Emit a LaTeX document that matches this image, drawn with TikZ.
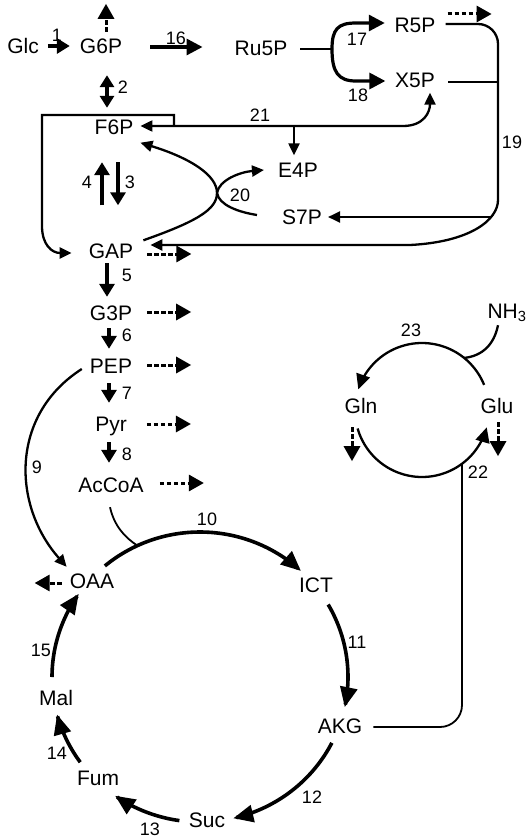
\documentclass[tikz,border=0pt]{standalone}
\usepackage{fontspec}
\setmainfont{Liberation Sans}
\usetikzlibrary{arrows.meta,calc}
\begin{document}
\begin{tikzpicture}[x=1pt,y=-1pt,
  sp/.style={inner sep=0pt, text height=15pt, text depth=0pt, font=\fontsize{21}{21}\selectfont},
  lab/.style={inner sep=0pt, text height=12.9pt, text depth=0pt, font=\fontsize{18}{18}\selectfont},
  rx/.style={line width=3.2pt, -{Triangle[length=13pt,width=15pt]}},
  bigrx/.style={line width=3.2pt, -{Triangle[length=16pt,width=16pt]}},
  dsh/.style={line width=3pt, dash pattern=on 4.5pt off 2.5pt, -{Triangle[length=15pt,width=16pt]}},
  ln/.style={line width=2.3pt},
  sm/.style={-{Triangle[length=12pt,width=11pt]}},
  tca/.style={line width=3.6pt, -{Triangle[length=20pt,width=17pt]}},
  thinln/.style={line width=1.8pt},
]
\useasboundingbox (0,0) rectangle (528,840);

% species
\node[sp] (Glc) at (23,46) {Glc};
\node[sp] (G6P) at (101,46) {G6P};
\node[sp] (Ru5P) at (261,48) {Ru5P};
\node[sp] (R5P) at (415,25) {R5P};
\node[sp] (X5P) at (415,80) {X5P};
\node[sp] (F6P) at (114,127) {F6P};
\node[sp] (E4P) at (298,170) {E4P};
\node[sp] (S7P) at (302,217) {S7P};
\node[sp] (GAP) at (111,251) {GAP};
\node[sp] (G3P) at (111,313) {G3P};
\node[sp] (PEP) at (111,366) {PEP};
\node[sp] (Pyr) at (111,424) {Pyr};
\node[sp] (AcCoA) at (111,485) {AcCoA};
\node[sp] (OAA) at (92,581) {OAA};
\node[sp] (ICT) at (316,585) {ICT};
\node[sp] (AKG) at (340,726) {AKG};
\node[sp] (Suc) at (207,820) {Suc};
\node[sp] (Fum) at (98,778) {Fum};
\node[sp] (Mal) at (56,698) {Mal};
\node[sp] (Gln) at (361,406) {Gln};
\node[sp] (Glu) at (497,406) {Glu};
\node[sp] (NH3) at (507,311) {NH\textsubscript{3}};

% labels
\node[lab] (l1) at (57,35) {1};
\node[lab] (l16) at (176,38) {16};
\node[lab] (l17) at (357,39) {17};
\node[lab] (l18) at (358,95) {18};
\node[lab] (l2) at (123,87) {2};
\node[lab] (l21) at (260,115) {21};
\node[lab] (l19) at (512,142) {19};
\node[lab] (l4) at (87,182) {4};
\node[lab] (l3) at (130,182) {3};
\node[lab] (l20) at (240,195) {20};
\node[lab] (l5) at (127,275) {5};
\node[lab] (l6) at (127,335) {6};
\node[lab] (l7) at (127,393) {7};
\node[lab] (l8) at (127,454) {8};
\node[lab] (l9) at (37,467) {9};
\node[lab] (l23) at (411,330) {23};
\node[lab] (l22) at (478,472) {22};
\node[lab] (l10) at (207,519) {10};
\node[lab] (l11) at (357,642) {11};
\node[lab] (l15) at (41,650) {15};
\node[lab] (l14) at (57,753) {14};
\node[lab] (l12) at (312,797) {12};
\node[lab] (l13) at (150,829) {13};

% helper coordinates
\coordinate (fork) at (332,49);
\coordinate (c19a) at (498,24);
\coordinate (c19b) at (498,200);
\coordinate (j19) at (490,217);
\coordinate (c21) at (403,126);
\coordinate (b21) at (174,126);
\coordinate (e21) at (294,126);
\coordinate (v20) at (217,193);
\coordinate (C) at (200,677);
\coordinate (G) at (422,410);

% glycolysis / top
\draw[rx] ($(Glc.east)+(9,0)$) -- ($(G6P.west)+(-10,0)$);
\draw[dsh] ($(G6P.north)+(5,-6.5)$) -- ($(G6P.north)+(5,-34.5)$);
\draw[line width=3.2pt, {Triangle[length=12pt,width=14pt]}-{Triangle[length=12pt,width=14pt]}]
  ($(G6P.south)+(6,21.5)$) -- ($(F6P.north)+(-7,-11.5)$);
\draw[bigrx] ($(G6P.east)+(28,1)$) -- ($(Ru5P.west)+(-32,-1)$);
\draw[line width=2.8pt] ($(Ru5P.east)+(13,1)$) -- (fork);
\draw[bigrx] (fork) .. controls (332,29) and (338,23) .. (356,23) -- ($(R5P.west)+(-9.6,-2)$);
\draw[bigrx] (fork) .. controls (332,72) and (338,81) .. (356,81) -- ($(X5P.west)+(-9.6,1)$);
\draw[dsh] ($(R5P.east)+(12,-11)$) -- ($(R5P.east)+(56,-11)$);

% 19
\draw[ln, rounded corners=20pt] ($(R5P.east)+(10,-1)$) -- (c19a) -- (c19b);
\draw[ln] ($(X5P.east)+(13,2)$) -- (498,82);
\draw[ln, sm] (c19b) .. controls (498,220) and (470,242) .. (410,245) -- ($(GAP.east)+(17,-6)$);
\draw[ln, sm] (j19) -- ($(S7P.east)+(6,0)$);

% 21
\draw[ln, {Triangle[length=12pt,width=11pt]}-{Triangle[length=12pt,width=11pt]}]
  ($(F6P.east)+(7,-1)$) -- (c21) .. controls (424,126) and (430,112) .. ($(X5P.south)+(15,5)$);
\draw[ln, sm] (e21) -- ($(E4P.north)+(-4,-7)$);
\draw[ln, sm] (b21) -- (174,115) -- (42,115) -- (42,226) .. controls (42,245) and (52,253) .. ($(GAP.west)+(-17,2)$);

% 3 / 4
\draw[rx] ($(GAP.north)+(-9,-38)$) -- ($(F6P.south)+(-12,27.5)$);
\draw[rx] ($(F6P.south)+(4,27.5)$) -- ($(GAP.north)+(7,-38)$);

% 20
\draw[ln, sm] ($(GAP.north east)+(10,-3)$) .. controls (195,222) and (217,210) .. (v20)
  .. controls (217,175) and (190,158) .. ($(F6P.south east)+(7,8)$);
\draw[ln, sm] ($(S7P.west)+(-25,-2)$) .. controls (238,212) and (219,205) .. (v20)
  .. controls (219,180) and (240,172) .. ($(E4P.west)+(-14,0)$);

% lower glycolysis
\draw[rx] ($(GAP.south)+(-4,4.5)$) -- ($(G3P.north)+(-4,-8.5)$);
\draw[rx] ($(G3P.south)+(-2,7.5)$) -- ($(PEP.north)+(-2,-9.5)$);
\draw[rx] ($(PEP.south)+(-2,9.5)$) -- ($(Pyr.north)+(-2,-13.5)$);
\draw[rx] ($(Pyr.south)+(-2,10.5)$) -- ($(AcCoA.north)+(-2,-14.5)$);

\draw[dsh] ($(GAP.east)+(14,3)$) -- ($(GAP.east)+(58,3)$);
\draw[dsh] ($(G3P.east)+(15,-1)$) -- ($(G3P.east)+(59,-1)$);
\draw[dsh] ($(PEP.east)+(15,-1)$) -- ($(PEP.east)+(59,-1)$);
\draw[dsh] ($(Pyr.east)+(20,0)$) -- ($(Pyr.east)+(64,0)$);
\draw[dsh] ($(AcCoA.east)+(16,-2)$) -- ($(AcCoA.east)+(60,-2)$);
\draw[dsh] ($(OAA.west)+(-8,2)$) -- ($(OAA.west)+(-35,2)$);

% 9
\draw[ln, sm] ($(PEP.west)+(-8,3)$) .. controls (10,415) and (12,505) .. ($(OAA.north west)+(-3,-6.5)$);

% TCA cycle
\coordinate (j10) at ($(C)+(-115:148 and 145)$);
\draw[thinln] ($(AcCoA.south)+(-1,14.5)$) .. controls (114,525) and (124,537) .. (j10);
\draw[tca] plot[domain=-130:-47, samples=60] ({200+148*cos(\x)},{677+145*sin(\x)});
\draw[tca] plot[domain=-30:12, samples=40] ({200+148*cos(\x)},{677+145*sin(\x)});
\draw[tca] plot[domain=27:77, samples=40] ({200+148*cos(\x)},{677+145*sin(\x)});
\draw[tca] plot[domain=98:125, samples=30] ({200+148*cos(\x)},{677+145*sin(\x)});
\draw[tca] plot[domain=144:165, samples=30] ({200+148*cos(\x)},{677+145*sin(\x)});
\draw[tca] plot[domain=180:215, samples=30] ({200+148*cos(\x)},{677+145*sin(\x)});

% Gln / Glu cycle
\draw[ln, {Triangle[length=15pt,width=14pt]}-] plot[domain=-162:-22, samples=60] ({422+67*cos(\x)},{410+67*sin(\x)});
\draw[ln, {Triangle[length=15pt,width=14pt]}-] plot[domain=15:164, samples=60] ({422+67*cos(\x)},{410+67*sin(\x)});
\draw[ln] ($(NH3.south)+(-9,6.5)$) .. controls (494,345) and (482,356) .. ($(G)+(-51:67)$);
\draw[dsh] ($(Gln.south)+(-9,13.5)$) -- ($(Gln.south)+(-9,47.5)$);
\draw[dsh] ($(Glu.south)+(1,8.5)$) -- ($(Glu.south)+(1,42.5)$);

% 22
\draw[thinln, rounded corners=22pt] ($(AKG.east)+(11,1)$) -- (462,727) -- (462,464);
\end{tikzpicture}
\end{document}
